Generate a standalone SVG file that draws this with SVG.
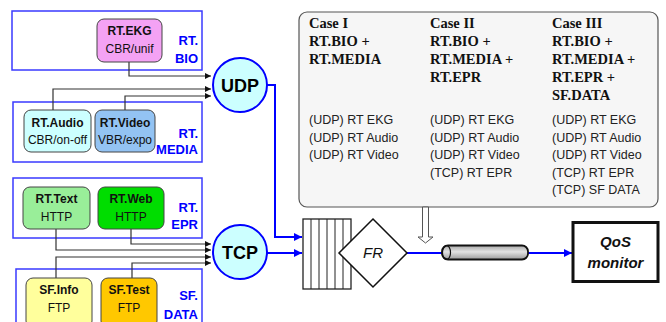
<svg xmlns="http://www.w3.org/2000/svg" width="666" height="322" viewBox="0 0 666 322">
<style>
.grp{fill:#fff;stroke:#3a3aff;stroke-width:1.5}
.node{stroke:#444;stroke-width:1}
.nt{font-family:"Liberation Sans",Arial,sans-serif;font-size:12px;text-anchor:middle;fill:#111}
.b{font-weight:bold}
.gl{font-family:"Liberation Sans",Arial,sans-serif;font-size:13px;font-weight:bold;fill:#0000ff;text-anchor:end}
.proto{fill:#ccffff;stroke:#0000ff;stroke-width:2}
.pt{font-family:"Liberation Sans",Arial,sans-serif;font-size:18px;font-weight:bold;text-anchor:middle;fill:#000}
.blk{fill:none;stroke:#333;stroke-width:1.2}
.blue{fill:none;stroke:#0000ff;stroke-width:2}
.ch{font-family:"Liberation Serif","Times New Roman",serif;font-size:14.5px;font-weight:bold;fill:#111}
.cl{font-family:"Liberation Sans",Arial,sans-serif;font-size:12.5px;fill:#222}
</style>
<defs>
<marker id="ab" viewBox="0 0 10 10" refX="10" refY="5" markerUnits="userSpaceOnUse" markerWidth="8" markerHeight="6" orient="auto"><path d="M0,0 L10,5 L0,10 z" fill="#111"/></marker>
<marker id="au" viewBox="0 0 10 10" refX="10" refY="5" markerUnits="userSpaceOnUse" markerWidth="11" markerHeight="8" orient="auto"><path d="M0,0 L10,5 L0,10 z" fill="#0000ff"/></marker>
<linearGradient id="cyl" x1="0" y1="0" x2="0" y2="1"><stop offset="0" stop-color="#a8a8a8"/><stop offset="0.45" stop-color="#e2e2e2"/><stop offset="1" stop-color="#9a9a9a"/></linearGradient>
</defs>

<g id="group-rt-bio">
<rect class="grp" x="12" y="11" width="190" height="59"/>
<text class="gl" x="198" y="45">RT.</text><text class="gl" x="198" y="62.5">BIO</text>
</g>
<g id="group-rt-media">
<rect class="grp" x="13" y="102" width="189" height="60"/>
<text class="gl" x="198" y="138">RT.</text><text class="gl" x="198" y="154">MEDIA</text>
</g>
<g id="group-rt-epr">
<rect class="grp" x="13" y="178" width="189" height="60"/>
<text class="gl" x="198" y="212">RT.</text><text class="gl" x="198" y="229">EPR</text>
</g>
<g id="group-sf-data">
<rect class="grp" x="16" y="269" width="186" height="60"/>
<text class="gl" x="198" y="300">SF.</text><text class="gl" x="198" y="319">DATA</text>
</g>

<g id="connectors">
<path class="blk" d="M129,62 V76 H211" marker-end="url(#ab)"/>
<path class="blk" d="M53,110 V89 H211" marker-end="url(#ab)"/>
<path class="blk" d="M125,110 V96 H211" marker-end="url(#ab)"/>
<path class="blk" d="M56,229 V250 H211" marker-end="url(#ab)"/>
<path class="blk" d="M131,229 V244 H211" marker-end="url(#ab)"/>
<path class="blk" d="M56,278 V257 H211" marker-end="url(#ab)"/>
<path class="blk" d="M132,278 V263 H211" marker-end="url(#ab)"/>
<path class="blue" d="M267,85 H275 V237 H302" marker-end="url(#au)"/>
<path class="blue" d="M267,253 H302" marker-end="url(#au)"/>
<path class="blue" d="M407,253 H446"/>
<path class="blue" d="M528,253 H572" marker-end="url(#au)"/>
</g>

<g id="node-rt-ekg">
<rect class="node" x="97" y="19" width="65" height="43" rx="7" fill="#f4a2f4"/>
<text class="nt b" x="129.5" y="35">RT.EKG</text><text class="nt" x="129.5" y="53">CBR/unif</text>
</g>
<g id="node-rt-audio">
<rect class="node" x="24" y="110" width="67" height="42" rx="7" fill="#ccffff"/>
<text class="nt b" x="57.5" y="127">RT.Audio</text><text class="nt" x="57.5" y="144">CBR/on-off</text>
</g>
<g id="node-rt-video">
<rect class="node" x="95" y="110" width="60" height="42" rx="7" fill="#93c3f3"/>
<text class="nt b" x="125" y="127">RT.Video</text><text class="nt" x="125" y="144">VBR/expo</text>
</g>
<g id="node-rt-text">
<rect class="node" x="23" y="187" width="67" height="42" rx="7" fill="#99ee99"/>
<text class="nt b" x="56.5" y="203">RT.Text</text><text class="nt" x="56.5" y="221">HTTP</text>
</g>
<g id="node-rt-web">
<rect class="node" x="98" y="187" width="66" height="42" rx="7" fill="#00dd00"/>
<text class="nt b" x="131" y="203">RT.Web</text><text class="nt" x="131" y="221">HTTP</text>
</g>
<g id="node-sf-info">
<rect class="node" x="26" y="278" width="66" height="50" rx="7" fill="#ffff9c"/>
<text class="nt b" x="59" y="294">SF.Info</text><text class="nt" x="59" y="312">FTP</text>
</g>
<g id="node-sf-test">
<rect class="node" x="101" y="278" width="56" height="50" rx="7" fill="#ffc800"/>
<text class="nt b" x="129" y="294">SF.Test</text><text class="nt" x="129" y="312">FTP</text>
</g>

<g id="node-udp">
<circle class="proto" cx="240" cy="85" r="27"/>
<text class="pt" x="240" y="91.5">UDP</text>
</g>
<g id="node-tcp">
<circle class="proto" cx="240" cy="252" r="27"/>
<text class="pt" x="240" y="258.5">TCP</text>
</g>

<g id="node-queue">
<rect x="303" y="219" width="48" height="70" fill="#fff" stroke="#222" stroke-width="1.3"/>
<path d="M311,219 V289 M319,219 V289 M327,219 V289 M335,219 V289 M343,219 V289" stroke="#222" stroke-width="1"/>
</g>
<g id="node-fr">
<polygon points="373,219 407,253 373,287 339,253" fill="#fff" stroke="#111" stroke-width="1.5"/>
<text x="373" y="258" font-family="Liberation Sans,Arial,sans-serif" font-size="15" font-style="italic" text-anchor="middle" fill="#111">FR</text>
</g>
<g id="node-link">
<rect x="442" y="245.5" width="86" height="14" rx="6" fill="url(#cyl)" stroke="#111" stroke-width="1.8"/>
<ellipse cx="446.5" cy="252.5" rx="4" ry="7" fill="none" stroke="#111" stroke-width="1.2"/>
</g>
<g id="node-qos">
<rect x="573" y="222.5" width="85" height="59" fill="#fff" stroke="#111" stroke-width="3"/>
<text x="615.5" y="247" font-family="Liberation Sans,Arial,sans-serif" font-size="15" font-weight="bold" font-style="italic" text-anchor="middle" fill="#111">QoS</text>
<text x="615.5" y="267.5" font-family="Liberation Sans,Arial,sans-serif" font-size="15" font-weight="bold" font-style="italic" text-anchor="middle" fill="#111">monitor</text>
</g>

<g id="node-cases">
<rect x="299" y="12" width="359" height="195" rx="8" fill="#f6f6f6" stroke="#555" stroke-width="1.2"/>
<polygon points="422.5,207 428.5,207 428.5,237 433,237 425.5,243 418,237 422.5,237" fill="#fff" stroke="#555" stroke-width="1"/>
<text class="ch" x="309" y="28">Case I</text>
<text class="ch" x="309" y="46">RT.BIO +</text>
<text class="ch" x="309" y="64">RT.MEDIA</text>
<text class="ch" x="430" y="28">Case II</text>
<text class="ch" x="430" y="46">RT.BIO +</text>
<text class="ch" x="430" y="64">RT.MEDIA +</text>
<text class="ch" x="430" y="82">RT.EPR</text>
<text class="ch" x="552" y="28">Case III</text>
<text class="ch" x="552" y="46">RT.BIO +</text>
<text class="ch" x="552" y="64">RT.MEDIA +</text>
<text class="ch" x="552" y="82">RT.EPR +</text>
<text class="ch" x="552" y="100">SF.DATA</text>
<text class="cl" x="309" y="124">(UDP) RT EKG</text>
<text class="cl" x="309" y="141.5">(UDP) RT Audio</text>
<text class="cl" x="309" y="159">(UDP) RT Video</text>
<text class="cl" x="430" y="124">(UDP) RT EKG</text>
<text class="cl" x="430" y="141.5">(UDP) RT Audio</text>
<text class="cl" x="430" y="159">(UDP) RT Video</text>
<text class="cl" x="430" y="176.5">(TCP) RT EPR</text>
<text class="cl" x="552" y="124">(UDP) RT EKG</text>
<text class="cl" x="552" y="141.5">(UDP) RT Audio</text>
<text class="cl" x="552" y="159">(UDP) RT Video</text>
<text class="cl" x="552" y="176.5">(TCP) RT EPR</text>
<text class="cl" x="552" y="194">(TCP) SF DATA</text>
</g>
</svg>
